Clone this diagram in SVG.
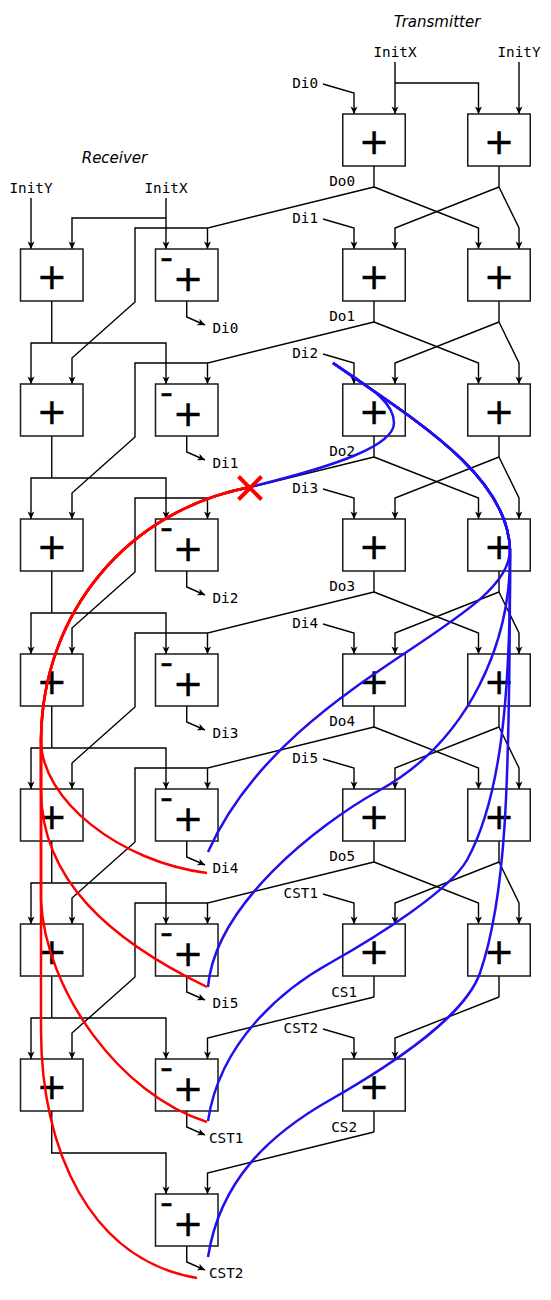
<svg xmlns="http://www.w3.org/2000/svg" width="551" height="1300" viewBox="0 0 551 1300">
<style>
.box rect{fill:#fff;stroke:#1a1a1a;stroke-width:1.5}
.plus{font-family:"DejaVu Sans",sans-serif;font-size:36px;text-anchor:middle;fill:#000;stroke:#000;stroke-width:0.5}
.minus{font-family:"DejaVu Sans",sans-serif;font-size:36px;fill:#000;stroke:#000;stroke-width:0.4}
.lbl{font-family:"DejaVu Sans Mono",monospace;font-size:14.3px;fill:#000}
.end{text-anchor:end}
.mid{text-anchor:middle}
.title{font-family:"DejaVu Sans",sans-serif;font-size:15px;font-style:italic;text-anchor:middle;fill:#000}
#wires path{fill:none;stroke:#000;stroke-width:1.4}
#wires path.a{marker-end:url(#ah)}
.blue{fill:none;stroke:#2010f0;stroke-width:2.5}
.red{fill:none;stroke:#f00;stroke-width:2.5}
</style>
<defs>
<marker id="ah" markerUnits="userSpaceOnUse" markerWidth="9" markerHeight="8" viewBox="-8 -4 9 8" refX="0" refY="0" orient="auto"><path d="M0,0 L-7.5,-3.5 L-5.5,0 L-7.5,3.5 Z" fill="#000"/></marker>
</defs>
<rect width="551" height="1300" fill="#fff"/>

<g id="titles">
<text class="title" x="437" y="27">Transmitter</text>
<text class="title" x="114.5" y="163">Receiver</text>
</g>

<g id="wires">
<path class="a" d="M395,62V114"/>
<path class="a" d="M395,83H478.5V114"/>
<path class="a" d="M519,62V114"/>
<path class="a" d="M323,84L354,93V114"/>
<path class="a" d="M323,219L354,228V249"/>
<path class="a" d="M323,354L354,363V384"/>
<path class="a" d="M323,489L354,498V519"/>
<path class="a" d="M323,624L354,633V654"/>
<path class="a" d="M323,759L354,768V789"/>
<path class="a" d="M323,894L354,903V924"/>
<path class="a" d="M323,1029L354,1038V1059"/>
<path d="M374,166V187"/><path d="M374,301V322"/><path d="M374,436V457"/><path d="M374,571V592"/>
<path d="M374,706V727"/><path d="M374,841V862"/><path d="M374,976V997"/><path d="M374,1111V1132"/>
<path class="a" d="M374,187L478.5,228V249"/>
<path class="a" d="M374,322L478.5,363V384"/>
<path class="a" d="M374,457L478.5,498V519"/>
<path class="a" d="M374,592L478.5,633V654"/>
<path class="a" d="M374,727L478.5,768V789"/>
<path class="a" d="M374,862L478.5,903V924"/>
<path class="a" d="M374,187L207.5,228V249"/>
<path class="a" d="M374,322L207.5,363V384"/>
<path class="a" d="M374,457L207.5,498V519"/>
<path class="a" d="M374,592L207.5,633V654"/>
<path class="a" d="M374,727L207.5,768V789"/>
<path class="a" d="M374,862L207.5,903V924"/>
<path class="a" d="M374,997L207.5,1038V1059"/>
<path class="a" d="M374,1132L207.5,1173V1194"/>
<path class="a" d="M207.5,228H135V302L72,358V384"/>
<path class="a" d="M207.5,363H135V437L72,493V519"/>
<path class="a" d="M207.5,498H135V572L72,628V654"/>
<path class="a" d="M207.5,633H135V707L72,763V789"/>
<path class="a" d="M207.5,768H135V842L72,898V924"/>
<path class="a" d="M207.5,903H135V977L72,1033V1059"/>
<path d="M499,166V187"/><path d="M499,301V322"/><path d="M499,436V457"/><path d="M499,571V592"/>
<path d="M499,706V727"/><path d="M499,841V862"/><path d="M499,976V997"/>
<path class="a" d="M499,187L395,228V249"/>
<path class="a" d="M499,322L395,363V384"/>
<path class="a" d="M499,457L395,498V519"/>
<path class="a" d="M499,592L395,633V654"/>
<path class="a" d="M499,727L395,768V789"/>
<path class="a" d="M499,862L395,903V924"/>
<path class="a" d="M499,997L395,1038V1059"/>
<path class="a" d="M499,187L519,228V249"/>
<path class="a" d="M499,322L519,363V384"/>
<path class="a" d="M499,457L519,498V519"/>
<path class="a" d="M499,592L519,633V654"/>
<path class="a" d="M499,727L519,768V789"/>
<path class="a" d="M499,862L519,903V924"/>
<path class="a" d="M31,198V249"/>
<path class="a" d="M166,198V249"/>
<path class="a" d="M166,218H72V249"/>
<path d="M51.75,301V343"/><path class="a" d="M51.75,343H31V384"/><path class="a" d="M51.75,343H166V384"/>
<path d="M51.75,436V478"/><path class="a" d="M51.75,478H31V519"/><path class="a" d="M51.75,478H166V519"/>
<path d="M51.75,571V613"/><path class="a" d="M51.75,613H31V654"/><path class="a" d="M51.75,613H166V654"/>
<path d="M51.75,706V748"/><path class="a" d="M51.75,748H31V789"/><path class="a" d="M51.75,748H166V789"/>
<path d="M51.75,841V883"/><path class="a" d="M51.75,883H31V924"/><path class="a" d="M51.75,883H166V924"/>
<path d="M51.75,976V1018"/><path class="a" d="M51.75,1018H31V1059"/><path class="a" d="M51.75,1018H166V1059"/>
<path class="a" d="M51.75,1111V1153H166V1194"/>
<path class="a" d="M186.75,301V317L205,325"/>
<path class="a" d="M186.75,436V452L205,460"/>
<path class="a" d="M186.75,571V587L205,595"/>
<path class="a" d="M186.75,706V722L205,730"/>
<path class="a" d="M186.75,841V857L205,865"/>
<path class="a" d="M186.75,976V992L205,1000"/>
<path class="a" d="M186.75,1111V1127L205,1135"/>
<path class="a" d="M186.75,1246V1262L205,1270"/>
</g>

<g id="tx-a0" class="box"><rect x="342.75" y="114" width="62.5" height="52"/><text class="plus" x="374" y="154">+</text></g>
<g id="tx-b0" class="box"><rect x="467.75" y="114" width="62.5" height="52"/><text class="plus" x="499" y="154">+</text></g>
<g id="tx-a1" class="box"><rect x="342.75" y="249" width="62.5" height="52"/><text class="plus" x="374" y="289">+</text></g>
<g id="tx-b1" class="box"><rect x="467.75" y="249" width="62.5" height="52"/><text class="plus" x="499" y="289">+</text></g>
<g id="tx-a2" class="box"><rect x="342.75" y="384" width="62.5" height="52"/><text class="plus" x="374" y="424">+</text></g>
<g id="tx-b2" class="box"><rect x="467.75" y="384" width="62.5" height="52"/><text class="plus" x="499" y="424">+</text></g>
<g id="tx-a3" class="box"><rect x="342.75" y="519" width="62.5" height="52"/><text class="plus" x="374" y="559">+</text></g>
<g id="tx-b3" class="box"><rect x="467.75" y="519" width="62.5" height="52"/><text class="plus" x="499" y="559">+</text></g>
<g id="tx-a4" class="box"><rect x="342.75" y="654" width="62.5" height="52"/><text class="plus" x="374" y="694">+</text></g>
<g id="tx-b4" class="box"><rect x="467.75" y="654" width="62.5" height="52"/><text class="plus" x="499" y="694">+</text></g>
<g id="tx-a5" class="box"><rect x="342.75" y="789" width="62.5" height="52"/><text class="plus" x="374" y="829">+</text></g>
<g id="tx-b5" class="box"><rect x="467.75" y="789" width="62.5" height="52"/><text class="plus" x="499" y="829">+</text></g>
<g id="tx-a6" class="box"><rect x="342.75" y="924" width="62.5" height="52"/><text class="plus" x="374" y="964">+</text></g>
<g id="tx-b6" class="box"><rect x="467.75" y="924" width="62.5" height="52"/><text class="plus" x="499" y="964">+</text></g>
<g id="tx-a7" class="box"><rect x="342.75" y="1059" width="62.5" height="52"/><text class="plus" x="374" y="1099">+</text></g>

<g id="rx-c1" class="box"><rect x="20.5" y="249" width="62.5" height="52"/><text class="plus" x="51.75" y="289">+</text></g>
<g id="rx-c2" class="box"><rect x="20.5" y="384" width="62.5" height="52"/><text class="plus" x="51.75" y="424">+</text></g>
<g id="rx-c3" class="box"><rect x="20.5" y="519" width="62.5" height="52"/><text class="plus" x="51.75" y="559">+</text></g>
<g id="rx-c4" class="box"><rect x="20.5" y="654" width="62.5" height="52"/><text class="plus" x="51.75" y="694">+</text></g>
<g id="rx-c5" class="box"><rect x="20.5" y="789" width="62.5" height="52"/><text class="plus" x="51.75" y="829">+</text></g>
<g id="rx-c6" class="box"><rect x="20.5" y="924" width="62.5" height="52"/><text class="plus" x="51.75" y="964">+</text></g>
<g id="rx-c7" class="box"><rect x="20.5" y="1059" width="62.5" height="52"/><text class="plus" x="51.75" y="1099">+</text></g>

<g id="rx-d1" class="box"><rect x="155.5" y="249" width="62.5" height="52"/><text class="minus" x="160" y="269">-</text><text class="plus" x="188" y="291">+</text></g>
<g id="rx-d2" class="box"><rect x="155.5" y="384" width="62.5" height="52"/><text class="minus" x="160" y="404">-</text><text class="plus" x="188" y="426">+</text></g>
<g id="rx-d3" class="box"><rect x="155.5" y="519" width="62.5" height="52"/><text class="minus" x="160" y="539">-</text><text class="plus" x="188" y="561">+</text></g>
<g id="rx-d4" class="box"><rect x="155.5" y="654" width="62.5" height="52"/><text class="minus" x="160" y="674">-</text><text class="plus" x="188" y="696">+</text></g>
<g id="rx-d5" class="box"><rect x="155.5" y="789" width="62.5" height="52"/><text class="minus" x="160" y="809">-</text><text class="plus" x="188" y="831">+</text></g>
<g id="rx-d6" class="box"><rect x="155.5" y="924" width="62.5" height="52"/><text class="minus" x="160" y="944">-</text><text class="plus" x="188" y="966">+</text></g>
<g id="rx-d7" class="box"><rect x="155.5" y="1059" width="62.5" height="52"/><text class="minus" x="160" y="1079">-</text><text class="plus" x="188" y="1101">+</text></g>
<g id="rx-d8" class="box"><rect x="155.5" y="1194" width="62.5" height="52"/><text class="minus" x="160" y="1214">-</text><text class="plus" x="188" y="1236">+</text></g>

<g id="labels">
<text class="lbl mid" x="395" y="57">InitX</text>
<text class="lbl mid" x="519" y="57">InitY</text>
<text class="lbl mid" x="31" y="193">InitY</text>
<text class="lbl mid" x="166" y="193">InitX</text>
<text class="lbl end" x="318" y="88">Di0</text>
<text class="lbl end" x="318" y="223">Di1</text>
<text class="lbl end" x="318" y="358">Di2</text>
<text class="lbl end" x="318" y="493">Di3</text>
<text class="lbl end" x="318" y="628">Di4</text>
<text class="lbl end" x="318" y="763">Di5</text>
<text class="lbl end" x="318" y="898">CST1</text>
<text class="lbl end" x="318" y="1033">CST2</text>
<text class="lbl end" x="355" y="186">Do0</text>
<text class="lbl end" x="355" y="321">Do1</text>
<text class="lbl end" x="355" y="456">Do2</text>
<text class="lbl end" x="355" y="591">Do3</text>
<text class="lbl end" x="355" y="726">Do4</text>
<text class="lbl end" x="355" y="861">Do5</text>
<text class="lbl end" x="357" y="997">CS1</text>
<text class="lbl end" x="357" y="1132">CS2</text>
<text class="lbl" x="212.5" y="333">Di0</text>
<text class="lbl" x="212.5" y="468">Di1</text>
<text class="lbl" x="212.5" y="603">Di2</text>
<text class="lbl" x="212.5" y="738">Di3</text>
<text class="lbl" x="212.5" y="873">Di4</text>
<text class="lbl" x="212.5" y="1008">Di5</text>
<text class="lbl" x="209" y="1143">CST1</text>
<text class="lbl" x="209" y="1278">CST2</text>
</g>

<g id="annotations">
<path class="blue" d="M333,363 C365,385 394,400 394,423 C394,445 340,465 250,487"/>
<path class="blue" d="M333,363 C415,420 508,475 510,550 C510,625 285,680 208,852"/>
<path class="blue" d="M333,363 C415,420 508,475 510,550 C512,640 470,740 380,790 C317,825 215,905 208,987"/>
<path class="blue" d="M333,363 C415,420 508,475 510,550 C511,700 500,800 467,860 C450,890 380,935 330,963 C285,988 220,1040 208,1121"/>
<path class="blue" d="M333,363 C415,420 508,475 510,550 C510,800 505,900 480,973 C465,1015 400,1060 330,1100 C270,1134 220,1180 208,1257"/>
<path class="red" d="M250,487 C130,510 42,610 41,740 C41,800 120,862 207,873"/>
<path class="red" d="M250,487 C130,510 42,610 41,740 L41,790 C41,880 110,940 207,987"/>
<path class="red" d="M250,487 C130,510 42,610 41,740 L41,900 C45,990 120,1095 207,1122"/>
<path class="red" d="M250,487 C130,510 42,610 41,740 L41,1030 C41,1150 90,1260 197,1278"/>
<path d="M238.5,476.5L261.5,499.5M238.5,499.5L261.5,476.5" stroke="#f00" stroke-width="4" fill="none"/>
</g>
</svg>
